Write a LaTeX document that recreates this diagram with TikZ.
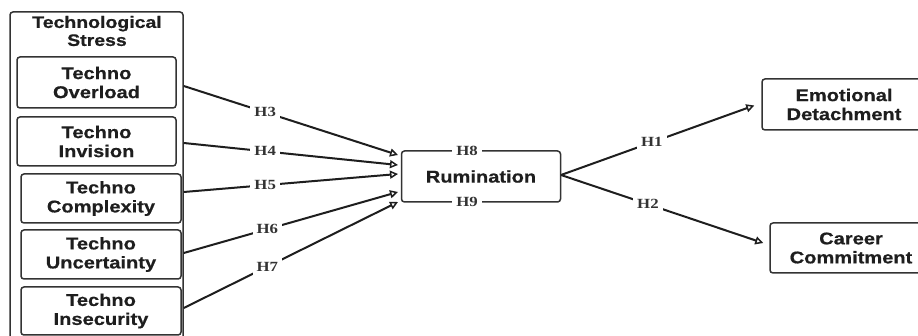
\documentclass[tikz,border=0pt]{standalone}
\usepackage{fontspec}
\usetikzlibrary{arrows.meta,calc}
\newfontfamily\boxfont{Liberation Sans Bold}[FakeStretch=1.18,FakeBold=0.6]
\newfontfamily\labfont{Liberation Serif Bold}[FakeStretch=1.2]
\definecolor{edgegray}{HTML}{333333}
\definecolor{txtgray}{HTML}{1E1E1E}
\tikzset{
  rbox/.style={draw=edgegray, line width=1.5pt, rounded corners=3pt, align=center,
    text=txtgray, font=\boxfont\fontsize{17}{19}\selectfont, inner sep=0pt},
  hlab/.style={fill=white, inner sep=4pt, text=edgegray,
    font=\labfont\fontsize{14}{14}\selectfont},
  conn/.style={draw=txtgray, line width=2pt,
    -{Triangle[open,length=8pt,width=8pt,line width=1.5pt]}},
}
\begin{document}
\begin{tikzpicture}[x=1pt,y=-1pt]
\useasboundingbox[fill=white] (0,0) rectangle (918,336);
\begin{scope}
\clip (0,0) rectangle (918,336);
% outer group box
\node[rbox, minimum width=173pt, minimum height=340pt] (ts) at (96.5,182) {};
\node[align=center, text=txtgray, font=\boxfont\fontsize{16.5}{18}\selectfont] (tstitle) at (97,31) {Technological\\Stress};
% inner boxes
\node[rbox, minimum width=159pt, minimum height=51pt] (over) at (96.5,82.5) {Techno\\Overload};
\node[rbox, minimum width=159pt, minimum height=49pt] (invis) at (96.5,141.5) {Techno\\Invision};
\node[rbox, minimum width=160pt, minimum height=49pt] (compl) at (101,198.5) {Techno\\Complexity};
\node[rbox, minimum width=160pt, minimum height=49pt] (uncert) at (101,254.5) {Techno\\Uncertainty};
\node[rbox, minimum width=160pt, minimum height=48pt] (insec) at (101,311) {Techno\\Insecurity};
% mediator and outcomes
\node[rbox, minimum width=159pt, minimum height=51pt] (rum) at (481,176.5) {Rumination};
\node[rbox, minimum width=164pt, minimum height=51pt] (emo) at (844,104.5) {Emotional\\Detachment};
\node[rbox, minimum width=162pt, minimum height=50pt] (car) at (851,248) {Career\\Commitment};
% H8 / H9 on the rumination box
\node[hlab] (h8) at (467,151) {H8};
\node[hlab] (h9) at (467,202) {H9};
% connector end points
\coordinate (s3) at (ts.east |- 0,86);
\coordinate (s4) at (ts.east |- 0,143);
\coordinate (s5) at (ts.east |- 0,192);
\coordinate (s6) at (ts.east |- 0,253);
\coordinate (s7) at (ts.east |- 0,308);
\coordinate (e3) at (398,155);
\coordinate (e4) at (398,165);
\coordinate (e5) at (398,174);
\coordinate (e6) at (398,192);
\coordinate (e7) at (398,202);
\coordinate (r0) at (561,175);
\draw[conn] (s3) -- node[hlab, pos=0.38] {H3} (e3);
\draw[conn] (s4) -- node[hlab, pos=0.38] {H4} (e4);
\draw[conn] (s5) -- node[hlab, pos=0.38] {H5} (e5);
\draw[conn] (s6) -- node[hlab, pos=0.39] {H6} (e6);
\draw[conn] (s7) -- node[hlab, pos=0.39] {H7} (e7);
\draw[conn] (r0) -- node[hlab, pos=0.47] {H1} ($(emo.west)+(-7,1)$);
\draw[conn] (r0) -- node[hlab, pos=0.43] {H2} ($(car.west)+(-6,-5)$);
\end{scope}
\end{tikzpicture}
\end{document}
